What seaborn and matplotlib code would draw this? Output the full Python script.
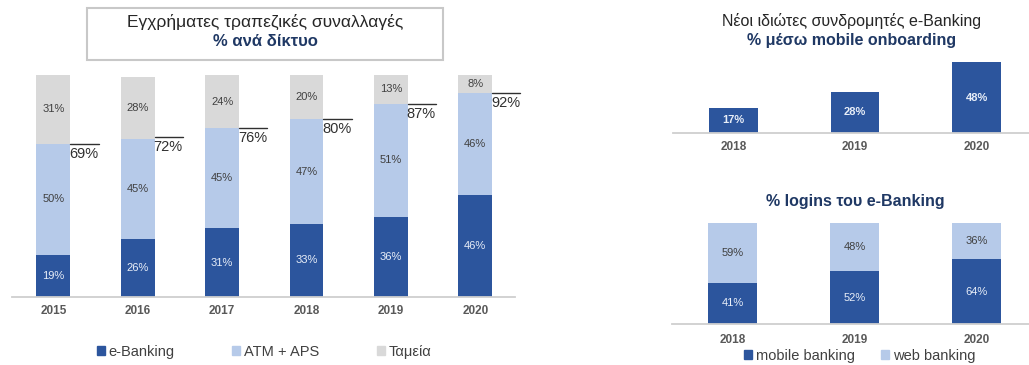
import matplotlib
matplotlib.use("Agg")
import matplotlib.pyplot as plt
from matplotlib.patches import Rectangle, Patch
import seaborn as sns
import pandas as pd

# ---------------- data ----------------
years = ["2015", "2016", "2017", "2018", "2019", "2020"]
ebanking = [19, 26, 31, 33, 36, 46]
atm_aps = [50, 45, 45, 47, 51, 46]
tameia = [31, 28, 24, 20, 13, 8]
totals = [69, 72, 76, 80, 87, 92]

years_r = ["2018", "2019", "2020"]
onboarding = [17, 28, 48]
mobile = [41, 52, 64]
web = [59, 48, 36]

left_title = ["Εγχρήματες τραπεζικές συναλλαγές", "% ανά δίκτυο"]
left_legend = ["e-Banking", "ATM + APS", "Ταμεία"]
rt_title = ["Νέοι ιδιώτες συνδρομητές e-Banking", "% μέσω mobile onboarding"]
rb_title = "% logins του e-Banking"
rb_legend = ["mobile banking", "web banking"]

# ---------------- style ----------------
sns.set_theme(style="white")
plt.rcParams["font.family"] = ["Liberation Sans", "DejaVu Sans"]

DARK = "#2c559d"
LIGHT = "#b6cae9"
GRAY = "#d9d9d9"
NAVY = "#1f3864"
TXT = "#404040"
TICK = "#595959"
AXIS = "#cfcfcf"

W, H = 1029, 365
fig = plt.figure(figsize=(W / 100, H / 100), dpi=100)
fig.patch.set_facecolor("white")


def ax_px(x0, y_top, x1, y_bot):
    return fig.add_axes([x0 / W, (H - y_bot) / H, (x1 - x0) / W, (y_bot - y_top) / H])


def style_ax(ax, pad):
    for s in ["top", "left", "right"]:
        ax.spines[s].set_visible(False)
    ax.spines["bottom"].set_color(AXIS)
    ax.spines["bottom"].set_linewidth(1.3)
    ax.set_yticks([])
    ax.set_xlabel("")
    ax.set_ylabel("")
    ax.tick_params(axis="x", length=0, pad=pad, labelsize=8.5, labelcolor=TICK)
    for lab in ax.get_xticklabels():
        lab.set_fontweight("bold")
    ax.set_facecolor("none")


# ---------------- left chart ----------------
axL = ax_px(12, 60, 515, 297)
dfL = pd.DataFrame({"year": years, "e": ebanking, "a": atm_aps, "t": tameia})
dfL["lvl2"] = dfL["e"] + dfL["a"]
dfL["lvl3"] = dfL["lvl2"] + dfL["t"]
for col, c in [("lvl3", GRAY), ("lvl2", LIGHT), ("e", DARK)]:
    sns.barplot(data=dfL, x="year", y=col, order=years, color=c, width=0.4,
                saturation=1, ax=axL, linewidth=0)
axL.set_xlim(-0.49, 5.47)
axL.set_ylim(0, 237 / 2.22)
style_ax(axL, 6)
for i in range(len(years)):
    e, a, t = ebanking[i], atm_aps[i], tameia[i]
    axL.text(i, e / 2, f"{e}%", ha="center", va="center", fontsize=8, color="#e8eef8")
    axL.text(i, e + a / 2, f"{a}%", ha="center", va="center", fontsize=8, color=TXT)
    axL.text(i, e + a + t / 2, f"{t}%", ha="center", va="center", fontsize=8, color=TXT)
    tot = totals[i]
    axL.plot([i + 0.2, i + 0.535], [tot, tot], color="#303030", lw=1, clip_on=False)
    axL.text(i + 0.53, tot - 1.3, f"{tot}%", ha="right", va="top", fontsize=10.5, color="#303030")

fig.patches.append(Rectangle((87 / W, (H - 60) / H), 356 / W, 52 / H, transform=fig.transFigure,
                             facecolor="white", edgecolor="#c8c8c8", lw=1.5, zorder=0))
fig.text(265 / W, 1 - 22 / H, left_title[0], ha="center", va="center", fontsize=12.5, color="#262626")
fig.text(265 / W, 1 - 42 / H, left_title[1], ha="center", va="center", fontsize=12,
         color=NAVY, fontweight="bold")

handlesL = [Patch(color=c) for c in [DARK, LIGHT, GRAY]]
fig.legend(handlesL, left_legend, loc="center", bbox_to_anchor=(264 / W, 1 - 352 / H), ncol=3,
           frameon=False, fontsize=10.5, handlelength=0.55, handleheight=0.55, handletextpad=0.25,
           columnspacing=3.95, labelcolor=TXT)

# ---------------- right top chart ----------------
axT = ax_px(673, 55, 1029, 133)
dfT = pd.DataFrame({"year": years_r, "v": onboarding})
sns.barplot(data=dfT, x="year", y="v", order=years_r, color=DARK, width=0.4,
            saturation=1, ax=axT, linewidth=0)
axT.set_xlim(-0.498, 2.432)
axT.set_ylim(0, 78 / 1.479)
style_ax(axT, 6)
for i, v in enumerate(onboarding):
    axT.text(i, v / 2, f"{v}%", ha="center", va="center", fontsize=8, color="#e8eef8",
             fontweight="bold")
fig.text(852 / W, 1 - 21 / H, rt_title[0], ha="center", va="center", fontsize=11.5, color="#262626")
fig.text(852 / W, 1 - 40 / H, rt_title[1], ha="center", va="center", fontsize=11.5,
         color=NAVY, fontweight="bold")

# ---------------- right bottom chart ----------------
axB = ax_px(672, 223, 1029, 324)
dfB = pd.DataFrame({"year": years_r, "m": mobile, "w": web})
dfB["tot"] = dfB["m"] + dfB["w"]
for col, c in [("tot", LIGHT), ("m", DARK)]:
    sns.barplot(data=dfB, x="year", y=col, order=years_r, color=c, width=0.4,
                saturation=1, ax=axB, linewidth=0)
axB.set_xlim(-0.498, 2.432)
axB.set_ylim(0, 100)
style_ax(axB, 7)
for i in range(len(years_r)):
    m, w = mobile[i], web[i]
    axB.text(i, m / 2, f"{m}%", ha="center", va="center", fontsize=8, color="#e8eef8")
    axB.text(i, m + w / 2, f"{w}%", ha="center", va="center", fontsize=8, color=TXT)
fig.text(855 / W, 1 - 202 / H, rb_title, ha="center", va="center", fontsize=11.5,
         color=NAVY, fontweight="bold")
handlesB = [Patch(color=c) for c in [DARK, LIGHT]]
fig.legend(handlesB, rb_legend, loc="center", bbox_to_anchor=(860 / W, 1 - 356 / H), ncol=2,
           frameon=False, fontsize=10.5, handlelength=0.55, handleheight=0.55, handletextpad=0.25,
           columnspacing=1.8, labelcolor=TXT, borderpad=0.1)

fig.savefig("out.png", dpi=100, facecolor="white")
